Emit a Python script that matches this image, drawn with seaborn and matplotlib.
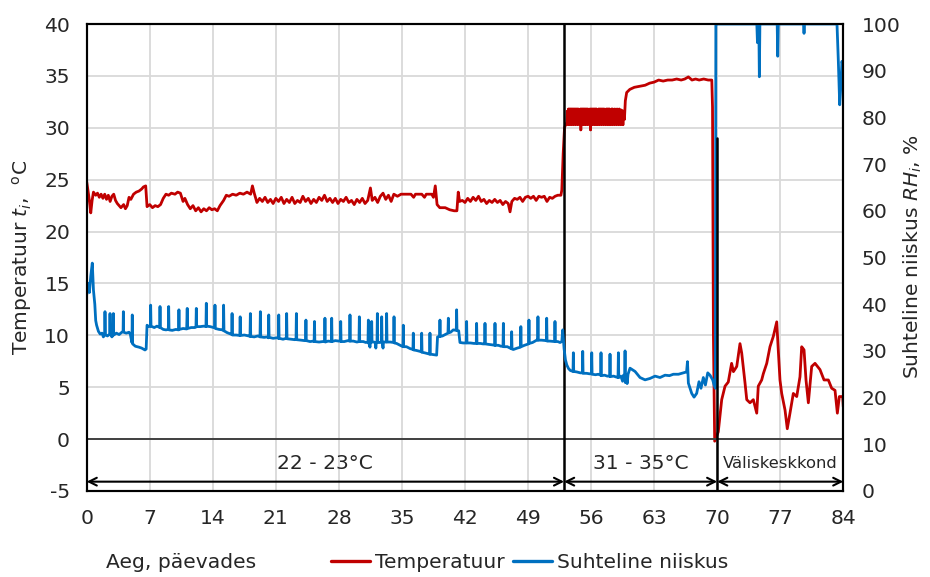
import matplotlib
matplotlib.use("Agg")
import matplotlib.pyplot as plt
from matplotlib.lines import Line2D
import seaborn as sns
import pandas as pd

sns.set_theme(style="white")
plt.rcParams["font.family"] = ["DejaVu Sans"]
plt.rcParams["mathtext.fontset"] = "dejavusans"
plt.rcParams["axes.unicode_minus"] = False
plt.rcParams["path.simplify"] = False

RED = "#C00000"
BLUE = "#0070C0"
TXT = "#262626"
FS = 14.6

# ---- indoor temperature, degC: (day, value) ----
temp_room = [
    (0.00, 24.8), (0.20, 23.6), (0.35, 22.6), (0.45, 21.8), (0.60, 23.0), (0.75, 23.8),
    (1.00, 23.5), (1.20, 23.7), (1.40, 23.3), (1.60, 23.6), (1.80, 23.2), (2.00, 23.6),
    (2.20, 23.1), (2.40, 23.5), (2.60, 22.9), (2.80, 23.4), (3.00, 23.6), (3.20, 23.0),
    (3.40, 22.7), (3.60, 22.5), (3.80, 22.3), (4.10, 22.6), (4.30, 22.2), (4.50, 22.5),
    (4.70, 23.3), (4.90, 23.1), (5.20, 23.6), (5.50, 23.8), (5.80, 23.9), (6.10, 24.1),
    (6.30, 24.3), (6.55, 24.4), (6.70, 22.4), (7.00, 22.6), (7.30, 22.3), (7.60, 22.5),
    (7.90, 22.4), (8.20, 22.6), (8.50, 23.2), (8.80, 23.6), (9.10, 23.5), (9.40, 23.7),
    (9.80, 23.6), (10.10, 23.8), (10.40, 23.7), (10.70, 22.9), (10.90, 23.2), (11.20, 22.6),
    (11.50, 22.2), (11.80, 22.5), (12.10, 22.0), (12.40, 22.3), (12.70, 21.9), (13.00, 22.2),
    (13.30, 22.0), (13.60, 22.3), (13.90, 22.1), (14.20, 22.2), (14.50, 22.0), (14.80, 22.5),
    (15.20, 23.0), (15.50, 23.5), (15.80, 23.4), (16.20, 23.6), (16.60, 23.5), (17.00, 23.7),
    (17.40, 23.6), (17.80, 23.8), (18.20, 23.6), (18.40, 24.4), (18.60, 23.7), (18.90, 22.8),
    (19.20, 23.2), (19.50, 22.9), (19.80, 23.3), (20.10, 22.8), (20.40, 23.1), (20.70, 22.7),
    (21.00, 23.2), (21.30, 22.9), (21.60, 23.3), (21.90, 22.7), (22.20, 23.1), (22.50, 22.8),
    (22.80, 23.3), (23.10, 22.7), (23.40, 23.0), (23.70, 22.8), (24.00, 23.4), (24.30, 22.9),
    (24.60, 23.2), (24.90, 22.7), (25.20, 23.1), (25.50, 22.8), (25.80, 23.3), (26.10, 23.0),
    (26.40, 23.5), (26.70, 22.9), (27.00, 23.2), (27.30, 22.8), (27.60, 23.2), (27.90, 22.7),
    (28.20, 23.1), (28.50, 22.9), (28.80, 23.3), (29.10, 22.8), (29.40, 23.0), (29.70, 22.6),
    (30.00, 23.1), (30.30, 22.8), (30.60, 23.2), (30.90, 22.7), (31.20, 23.0), (31.50, 24.2),
    (31.70, 23.0), (32.00, 23.3), (32.30, 22.8), (32.60, 23.4), (32.90, 23.7), (33.20, 23.1),
    (33.50, 23.5), (33.80, 22.9), (34.10, 23.6), (34.50, 23.4), (34.90, 23.6), (35.50, 23.6),
    (36.00, 23.6), (36.30, 23.3), (36.50, 23.6), (37.20, 23.6), (37.50, 23.3), (37.70, 23.6),
    (38.30, 23.6), (38.50, 23.3), (38.70, 24.4), (38.90, 22.6), (39.20, 22.3), (39.80, 22.3),
    (40.30, 22.1), (40.80, 22.0), (41.10, 22.0), (41.25, 23.8), (41.40, 22.9), (41.70, 23.0),
    (42.00, 22.8), (42.30, 23.2), (42.60, 22.9), (42.90, 23.3), (43.20, 23.0), (43.50, 23.4),
    (43.80, 22.9), (44.10, 23.1), (44.40, 22.7), (44.70, 23.0), (45.00, 22.8), (45.30, 23.1),
    (45.60, 22.8), (45.90, 23.0), (46.20, 22.6), (46.50, 22.9), (46.80, 22.7), (47.00, 21.9),
    (47.20, 22.9), (47.50, 23.2), (47.80, 23.1), (48.10, 23.3), (48.40, 22.9), (48.70, 23.3),
    (49.00, 23.4), (49.30, 23.2), (49.60, 23.4), (49.90, 23.0), (50.20, 23.4), (50.50, 23.3),
    (50.80, 23.4), (51.10, 22.9), (51.40, 23.3), (51.70, 23.2), (52.00, 23.4), (52.30, 23.5),
    (52.65, 23.5), (52.75, 24.0), (52.90, 27.5), (53.05, 30.0), (53.20, 30.4),
]

# ---- warm period: fast heater cycling, then the 34-35 degC step ----
temp_cycling = [
    (53.30, 30.3), (53.36, 31.6), (53.42, 30.4), (53.48, 31.8), (53.54, 30.3), (53.60, 31.8),
    (53.66, 30.4), (53.72, 31.8), (53.78, 30.3), (53.84, 31.8), (53.90, 30.4), (53.96, 31.8),
    (54.02, 30.3), (54.08, 31.8), (54.14, 30.4), (54.20, 31.8), (54.26, 30.3), (54.32, 31.8),
    (54.38, 30.4), (54.44, 31.8), (54.50, 30.3), (54.56, 31.8), (54.62, 30.4), (54.68, 31.7),
    (54.74, 30.3), (54.80, 31.8), (54.86, 29.8), (54.92, 31.8), (54.98, 30.4), (55.04, 31.8),
    (55.10, 30.3), (55.16, 31.8), (55.22, 30.4), (55.28, 31.8), (55.34, 30.3), (55.40, 31.8),
    (55.46, 30.4), (55.52, 31.8), (55.58, 30.3), (55.64, 31.8), (55.70, 30.4), (55.76, 31.7),
    (55.82, 30.3), (55.88, 31.8), (55.94, 29.8), (56.00, 31.8), (56.06, 30.4), (56.12, 31.8),
    (56.18, 30.3), (56.24, 31.8), (56.30, 30.4), (56.36, 31.8), (56.42, 30.3), (56.48, 31.8),
    (56.54, 30.4), (56.60, 31.8), (56.66, 30.3), (56.72, 31.7), (56.78, 30.4), (56.84, 31.8),
    (56.90, 30.3), (56.96, 31.8), (57.02, 30.4), (57.08, 31.8), (57.14, 30.3), (57.20, 31.8),
    (57.26, 30.4), (57.32, 31.8), (57.38, 30.3), (57.44, 31.8), (57.50, 30.4), (57.56, 31.7),
    (57.62, 30.3), (57.68, 31.8), (57.74, 30.4), (57.80, 31.8), (57.86, 30.3), (57.92, 31.8),
    (57.98, 30.4), (58.04, 31.8), (58.10, 30.3), (58.16, 31.7), (58.22, 30.4), (58.28, 31.8),
    (58.34, 30.3), (58.40, 31.8), (58.46, 30.4), (58.52, 31.7), (58.58, 30.3), (58.64, 31.8),
    (58.70, 30.4), (58.76, 31.7), (58.82, 30.3), (58.88, 31.8), (58.94, 30.4), (59.00, 31.7),
    (59.06, 30.3), (59.12, 31.8), (59.18, 30.4), (59.24, 31.7), (59.30, 30.3), (59.36, 31.7),
    (59.42, 30.4), (59.48, 31.6), (59.54, 30.3), (59.60, 31.6),
]
temp_warm = [
    (59.70, 30.8), (59.80, 32.6), (59.95, 33.4), (60.30, 33.7), (60.80, 33.9), (61.40, 34.0),
    (62.00, 34.1), (62.50, 34.3), (63.00, 34.4), (63.50, 34.6), (64.00, 34.5), (64.50, 34.6),
    (65.00, 34.6), (65.50, 34.7), (66.00, 34.6), (66.40, 34.7), (66.80, 34.9), (67.20, 34.6),
    (67.60, 34.7), (68.00, 34.6), (68.50, 34.7), (69.00, 34.6), (69.40, 34.6), (69.48, 32.0),
    (69.58, 10.0), (69.72, -0.2),
]

# ---- outdoor climate ----
temp_outdoor = [
    (70.12, 0.7), (70.50, 3.8), (70.87, 5.1), (71.23, 5.5), (71.60, 7.3), (71.80, 6.5),
    (72.17, 7.0), (72.53, 9.2), (72.72, 8.3), (73.09, 5.4), (73.28, 3.8), (73.64, 3.5),
    (74.01, 3.8), (74.39, 2.5), (74.56, 5.1), (74.94, 5.7), (75.12, 6.3), (75.50, 7.3),
    (75.86, 8.9), (76.23, 9.9), (76.61, 11.3), (76.78, 8.6), (76.97, 5.7), (77.16, 4.4),
    (77.53, 2.8), (77.78, 1.0), (78.08, 2.5), (78.45, 4.4), (78.83, 4.1), (79.19, 6.0),
    (79.38, 8.9), (79.64, 8.6), (79.86, 5.7), (80.12, 3.5), (80.49, 7.0), (80.86, 7.3),
    (81.41, 6.7), (81.86, 5.7), (82.34, 5.7), (82.71, 4.9), (83.08, 4.7), (83.34, 2.5),
    (83.56, 4.1), (83.93, 4.1), (84.00, 3.1),
]

# ---- relative humidity, %: (day, value) ----
rh_room = [
    (0.00, 42.0), (0.15, 44.5), (0.30, 42.5), (0.45, 46.0), (0.62, 48.8), (0.75, 43.0),
    (0.90, 40.0), (1.00, 36.5), (1.10, 35.5), (1.30, 34.2), (1.50, 33.6), (1.70, 33.8),
    (1.85, 33.0), (2.00, 33.4), (2.03, 38.4), (2.07, 33.5), (2.30, 33.2), (2.55, 33.6),
    (2.59, 38.0), (2.63, 33.5), (2.80, 33.0), (2.93, 33.4), (2.96, 38.0), (3.00, 33.4),
    (3.30, 33.8), (3.60, 33.5), (3.90, 34.0), (4.04, 34.2), (4.07, 38.4), (4.10, 34.0),
    (4.40, 33.8), (4.70, 34.0), (4.85, 33.5), (5.02, 31.8), (5.06, 37.7), (5.10, 31.5),
    (5.40, 31.0), (5.80, 30.8), (6.10, 30.6), (6.47, 30.2), (6.60, 30.4), (6.70, 35.5),
    (6.90, 35.2), (7.07, 35.3), (7.10, 39.8), (7.14, 35.3), (7.50, 35.0), (7.80, 35.3),
    (8.10, 35.0), (8.14, 39.5), (8.18, 35.0), (8.50, 34.6), (8.80, 34.5), (9.06, 34.6),
    (9.10, 39.5), (9.14, 34.5), (9.50, 34.4), (9.90, 34.6), (10.20, 34.5), (10.24, 38.8),
    (10.28, 34.6), (10.70, 34.8), (11.10, 34.7), (11.16, 39.1), (11.20, 34.8), (11.60, 35.0),
    (12.00, 35.0), (12.13, 35.1), (12.17, 39.1), (12.21, 35.2), (12.60, 35.2), (13.00, 35.3),
    (13.24, 35.2), (13.28, 40.2), (13.32, 35.3), (13.70, 35.2), (14.10, 35.0), (14.20, 35.0),
    (14.24, 39.8), (14.28, 34.8), (14.70, 34.6), (15.10, 34.5), (15.16, 34.4), (15.20, 39.8),
    (15.24, 34.3), (15.60, 33.9), (16.00, 33.6), (16.10, 33.5), (16.14, 38.0), (16.18, 33.4),
    (16.60, 33.4), (17.00, 33.3), (17.04, 37.3), (17.08, 33.3), (17.50, 33.4), (18.00, 33.2),
    (18.13, 33.1), (18.17, 38.0), (18.21, 33.1), (18.60, 33.0), (19.00, 33.2), (19.24, 33.0),
    (19.28, 38.4), (19.32, 33.0), (19.70, 32.9), (20.10, 33.0), (20.17, 32.8), (20.21, 37.7),
    (20.25, 32.9), (20.70, 32.7), (21.10, 32.8), (21.28, 32.7), (21.32, 37.7), (21.36, 32.7),
    (21.80, 32.5), (22.16, 32.7), (22.20, 38.0), (22.24, 32.6), (22.70, 32.5), (23.10, 32.4),
    (23.24, 32.5), (23.28, 38.0), (23.32, 32.4), (23.80, 32.3), (24.20, 32.2), (24.30, 32.3),
    (24.34, 36.6), (24.38, 32.2), (24.80, 32.0), (25.20, 32.1), (25.25, 32.0), (25.29, 36.3),
    (25.33, 32.0), (25.80, 31.9), (26.20, 32.0), (26.41, 32.0), (26.45, 37.0), (26.49, 31.9),
    (26.80, 32.1), (27.16, 32.0), (27.20, 37.0), (27.24, 32.0), (27.60, 32.2), (28.00, 32.1),
    (28.16, 32.1), (28.20, 36.3), (28.24, 32.0), (28.60, 32.0), (29.00, 32.2), (29.19, 32.1),
    (29.23, 37.7), (29.27, 32.1), (29.60, 32.1), (30.00, 31.9), (30.23, 32.0), (30.27, 37.3),
    (30.31, 32.0), (30.70, 32.0), (31.00, 31.8), (31.23, 31.9), (31.27, 36.6), (31.31, 31.8),
    (31.45, 30.8), (31.50, 31.8), (31.60, 31.9), (31.64, 36.3), (31.68, 31.9), (31.90, 31.9),
    (32.05, 31.7), (32.10, 30.6), (32.15, 31.8), (32.23, 31.9), (32.27, 38.0), (32.31, 31.8),
    (32.50, 31.8), (32.71, 31.9), (32.75, 37.3), (32.79, 31.9), (32.90, 30.6), (32.95, 31.9),
    (33.26, 31.9), (33.30, 38.0), (33.34, 31.9), (33.70, 31.9), (34.08, 31.8), (34.12, 37.3),
    (34.16, 31.7), (34.40, 31.6), (34.80, 31.2), (35.11, 30.9), (35.15, 35.5), (35.19, 30.9),
    (35.50, 30.9), (35.90, 30.5), (36.22, 30.3), (36.26, 33.8), (36.30, 30.2), (36.60, 30.1),
    (37.00, 29.9), (37.15, 29.8), (37.19, 33.8), (37.23, 29.7), (37.50, 29.6), (37.90, 29.4),
    (38.07, 29.3), (38.11, 33.8), (38.15, 29.3), (38.50, 29.2), (38.85, 29.1), (38.95, 33.0),
    (39.18, 33.1), (39.22, 36.6), (39.26, 33.1), (39.50, 33.2), (39.90, 33.6), (40.11, 33.8),
    (40.15, 37.0), (40.19, 33.9), (40.40, 34.0), (40.70, 34.5), (41.03, 34.4), (41.07, 38.8),
    (41.11, 34.4), (41.30, 34.3), (41.44, 31.8), (41.80, 31.7), (42.14, 31.7), (42.18, 36.3),
    (42.22, 31.7), (42.60, 31.7), (43.00, 31.6), (43.25, 31.6), (43.29, 35.9), (43.33, 31.6),
    (43.70, 31.6), (44.00, 31.5), (44.18, 31.5), (44.22, 35.9), (44.26, 31.5), (44.60, 31.4),
    (45.00, 31.3), (45.29, 31.2), (45.33, 35.9), (45.37, 31.2), (45.70, 31.2), (46.00, 31.0),
    (46.22, 31.0), (46.26, 35.9), (46.30, 30.9), (46.70, 30.9), (47.00, 30.6), (47.14, 30.5),
    (47.18, 34.1), (47.22, 30.4), (47.37, 30.3), (47.80, 30.6), (48.16, 30.8), (48.20, 35.2),
    (48.24, 30.9), (48.60, 31.2), (49.06, 31.5), (49.10, 36.6), (49.14, 31.6), (49.50, 31.8),
    (49.96, 32.3), (50.06, 32.3), (50.10, 37.3), (50.14, 32.3), (50.50, 32.3), (51.03, 32.2),
    (51.07, 37.0), (51.11, 32.1), (51.40, 32.1), (51.95, 32.0), (51.99, 36.3), (52.03, 32.0),
    (52.30, 32.0), (52.55, 31.8), (52.75, 32.0), (52.85, 34.5), (53.00, 30.5), (53.15, 28.1),
    (53.30, 27.0),
]
rh_warm = [
    (53.50, 26.2), (53.70, 25.8), (53.99, 25.6), (54.03, 29.6), (54.07, 25.6), (54.40, 25.5),
    (54.80, 25.3), (55.03, 25.3), (55.07, 29.9), (55.11, 25.2), (55.50, 25.2), (55.80, 25.1),
    (56.03, 25.1), (56.07, 29.6), (56.11, 25.0), (56.50, 24.9), (56.80, 25.0), (57.06, 24.8),
    (57.10, 29.6), (57.14, 24.7), (57.50, 24.8), (57.80, 24.6), (58.06, 24.6), (58.10, 29.3),
    (58.14, 24.5), (58.50, 24.6), (58.80, 24.4), (58.99, 24.3), (59.03, 29.6), (59.07, 24.3),
    (59.30, 24.6), (59.50, 23.5), (59.60, 24.8), (59.73, 24.0), (59.77, 30.0), (59.81, 23.2),
    (59.90, 24.9), (60.00, 23.0), (60.10, 25.0), (60.32, 26.3), (60.88, 25.6), (61.43, 24.3),
    (61.99, 23.8), (62.54, 24.1), (63.10, 24.6), (63.65, 24.3), (64.21, 24.8), (64.70, 24.7),
    (65.13, 25.0), (65.70, 25.0), (66.24, 25.3), (66.60, 25.5), (66.70, 27.7), (66.80, 23.1),
    (67.17, 20.9), (67.43, 20.1), (67.72, 20.9), (67.98, 23.4), (68.20, 22.0), (68.46, 24.3),
    (68.69, 22.7), (68.95, 25.3), (69.20, 24.8), (69.50, 23.8), (69.65, 22.7), (69.80, 22.0),
    (69.85, 100.0),
]
rh_outdoor = [
    (70.00, 100.0), (74.40, 100.0), (74.47, 96.0), (74.52, 100.0), (74.62, 100.0),
    (74.68, 88.7), (74.74, 100.0), (76.66, 100.0), (76.72, 93.1), (76.78, 100.0),
    (79.58, 100.0), (79.64, 98.0), (79.70, 100.0), (83.30, 100.0), (83.45, 92.0),
    (83.60, 82.7), (83.72, 86.5), (83.85, 92.0), (84.00, 90.5),
]

day_ticks = list(range(0, 85, 7))
temp_ticks = list(range(-5, 41, 5))
rh_ticks = list(range(0, 101, 10))
phase_bounds = [0, 53, 70, 84]
phase_labels = ["22 - 23°C", "31 - 35°C", "Väliskeskkond"]
legend_labels = ["Temperatuur", "Suhteline niiskus"]

# The temperature trace is split into pieces: the slow parts as long runs and the
# fast heater cycling as one short piece per step, so the dense zigzag paints as
# a solid band.
temp_rows = [(d, v, "room") for d, v in temp_room + temp_cycling[:1]]
for i in range(len(temp_cycling) - 1):
    temp_rows += [(d, v, f"cyc{i}") for d, v in temp_cycling[i:i + 2]]
temp_rows += [(d, v, "rest") for d, v in temp_cycling[-1:] + temp_warm + temp_outdoor]
temp_df = pd.DataFrame(temp_rows, columns=["day", "value", "piece"])
rh_df = pd.DataFrame(rh_room + rh_warm + rh_outdoor, columns=["day", "value"])

fig = plt.figure(figsize=(9.3, 5.77), dpi=100)
ax = fig.add_axes([86.7 / 930, 1 - 491 / 577, (843.3 - 86.7) / 930, (491 - 24) / 577])
ax2 = ax.twinx()

sns.lineplot(data=temp_df, x="day", y="value", units="piece", ax=ax, color=RED,
             lw=2.0, estimator=None, sort=False, legend=False)
sns.lineplot(data=rh_df, x="day", y="value", ax=ax2, color=BLUE, lw=2.0,
             estimator=None, sort=False, legend=False)

ax.set_xlim(0, 84)
ax.set_ylim(-5, 40)
ax2.set_ylim(0, 100)
ax.set_xticks(day_ticks)
ax.set_yticks(temp_ticks)
ax2.set_yticks(rh_ticks)
ax.set_xlabel("")
ax.set_ylabel("")
ax2.set_ylabel("")

ax.grid(True, color="#d9d9d9", lw=1.3)
ax.set_axisbelow(True)
ax2.grid(False)

for a in (ax, ax2):
    a.tick_params(length=0, labelsize=FS, labelcolor=TXT)
    for s in a.spines.values():
        s.set_color("black")
        s.set_linewidth(1.5)
ax.tick_params(axis="y", pad=12)
ax.tick_params(axis="x", pad=13)
ax2.tick_params(axis="y", pad=13)

# zero line and phase dividers
ax.axhline(0, color="#404040", lw=1.4, zorder=2)
ax.axvline(phase_bounds[1], color="black", lw=1.8, zorder=2)
ax2.axvline(phase_bounds[2], ymin=0, ymax=0.755, color="black", lw=1.8, zorder=3)

# phase arrows and labels
arrow_y = -4.1
for i in range(3):
    x0, x1 = phase_bounds[i], phase_bounds[i + 1]
    ax.annotate("", xy=(x0, arrow_y), xytext=(x1, arrow_y),
                arrowprops=dict(arrowstyle="<->", color="black", lw=1.5,
                                shrinkA=0, shrinkB=0, mutation_scale=14))
    size = FS if i < 2 else 11.8
    ax.text((x0 + x1) / 2, -2.35, phase_labels[i], ha="center", va="center",
            fontsize=size, color=TXT)

fig.text(22 / 930, 1 - 257 / 577, "Temperatuur $t_{i}$,  $^{\\mathrm{o}}$C",
         rotation=90, ha="center", va="center", fontsize=FS, color=TXT)
fig.text(913 / 930, 1 - 257 / 577, "Suhteline niiskus $RH_{i}$, %",
         rotation=90, ha="center", va="center", fontsize=FS, color=TXT)
fig.text(106 / 930, 1 - 563 / 577, "Aeg, päevades", ha="left", va="center",
         fontsize=FS, color=TXT)

handles = [Line2D([], [], color=RED, lw=2.4), Line2D([], [], color=BLUE, lw=2.4)]
leg = fig.legend(handles, legend_labels, loc="center left",
                 bbox_to_anchor=(331 / 930, 1 - 563 / 577), ncol=2, frameon=False,
                 fontsize=FS, handlelength=1.9, handletextpad=0.25,
                 columnspacing=0.45, borderaxespad=0, borderpad=0)
for t in leg.get_texts():
    t.set_color(TXT)

fig.savefig("out.png", dpi=100)
